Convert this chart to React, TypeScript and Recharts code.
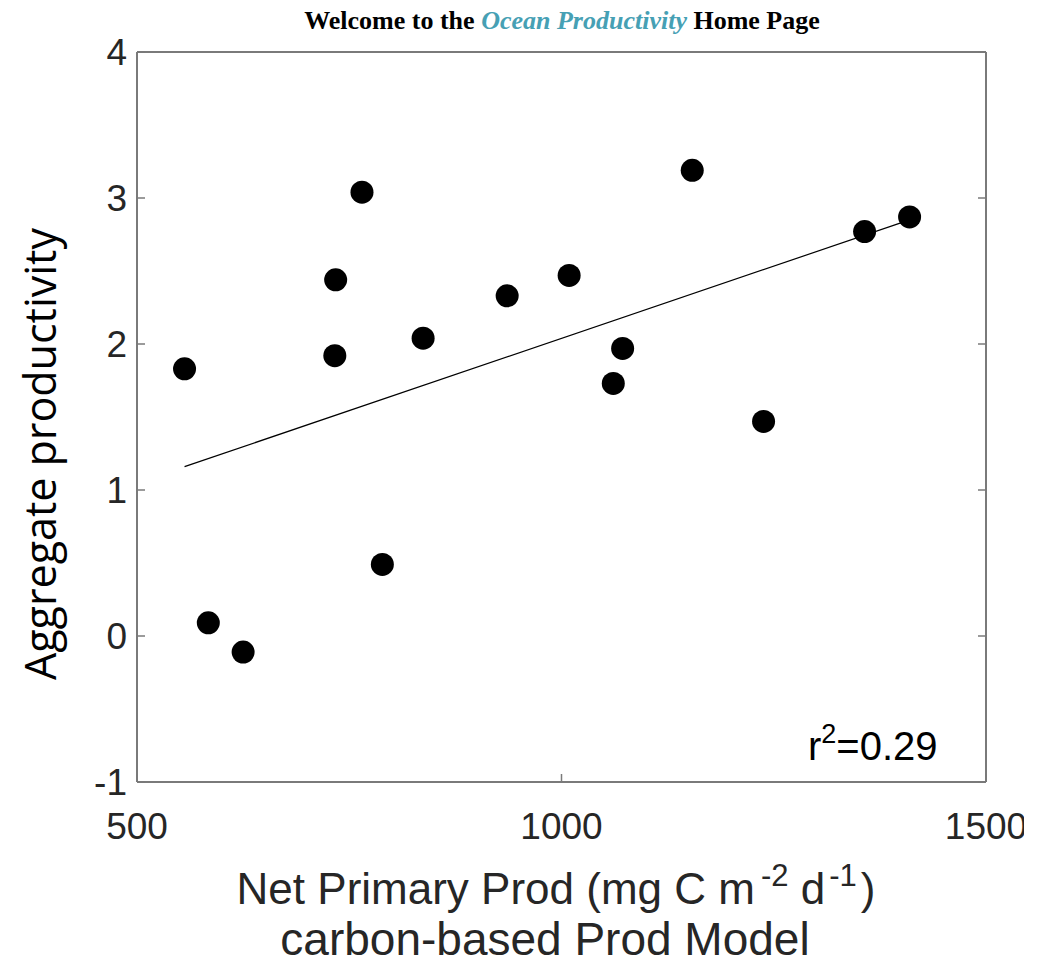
import { ScatterChart, Scatter, XAxis, YAxis, ReferenceLine } from 'recharts';

// values
const nppValues = [556, 584, 625, 734, 733, 765, 789, 837, 936, 1009, 1061, 1072, 1154, 1238, 1357, 1410];
const aggValues = [1.83, 0.09, -0.11, 2.44, 1.92, 3.04, 0.49, 2.04, 2.33, 2.47, 1.73, 1.97, 3.19, 1.47, 2.77, 2.87];
const xTicks = [500, 1000, 1500];
const yTicks = [-1, 0, 1, 2, 3, 4];
const fitX = [556, 1410];
const fitY = [1.16, 2.85];
const rSquared = '0.29';

const points = nppValues.map((x, i) => ({ x, y: aggValues[i] }));

const W = 1045;
const H = 962;
// plot box: x 137..986, y 52..782 (each axis takes 1px)
const M = { top: 51, left: 136, right: 58, bottom: 179 };
const AXIS = '#7a7a7a';
const TXT = '#262626';
const TICK = 8;
const labelFont = '"Liberation Sans", Arial, sans-serif';

const Dot = (props: any) => <circle cx={props.cx} cy={props.cy} r={11.5} fill="#000" />;

export default function App() {
  return (
    <div style={{ position: 'absolute', left: 0, top: 0, width: W, height: H, background: '#fff' }}>
      <div style={{ position: 'absolute', left: 0, top: 0, width: 1024, height: H, overflow: 'hidden' }}>
        <ScatterChart width={W} height={H} margin={M}>
          <XAxis
            type="number"
            dataKey="x"
            domain={[500, 1500]}
            ticks={xTicks}
            allowDataOverflow
            height={1}
            tickSize={0}
            tickMargin={0}
            axisLine={{ stroke: AXIS, strokeWidth: 2 }}
            tick={(p: any) => (
              <g>
                <line x1={p.x} x2={p.x} y1={p.y} y2={p.y - TICK} stroke={AXIS} strokeWidth={1.5} />
                <text x={p.x} y={p.y + 57} textAnchor="middle" fontSize={37} fill={TXT} fontFamily={labelFont}>
                  {p.payload.value}
                </text>
              </g>
            )}
          />
          <XAxis
            xAxisId="top"
            orientation="top"
            type="number"
            domain={[500, 1500]}
            ticks={xTicks}
            allowDataOverflow
            height={1}
            tickSize={0}
            tickMargin={0}
            axisLine={{ stroke: AXIS, strokeWidth: 2 }}
            tick={(p: any) => (
              <line x1={p.x} x2={p.x} y1={p.y} y2={p.y + TICK} stroke={AXIS} strokeWidth={1.5} />
            )}
          />
          <YAxis
            type="number"
            dataKey="y"
            domain={[-1, 4]}
            ticks={yTicks}
            allowDataOverflow
            width={1}
            tickSize={0}
            tickMargin={0}
            axisLine={{ stroke: AXIS, strokeWidth: 2 }}
            tick={(p: any) => (
              <g>
                <line x1={p.x} x2={p.x + TICK} y1={p.y} y2={p.y} stroke={AXIS} strokeWidth={1.5} />
                <text x={p.x - 10} y={p.y + 13} textAnchor="end" fontSize={37} fill={TXT} fontFamily={labelFont}>
                  {p.payload.value}
                </text>
              </g>
            )}
          />
          <YAxis
            yAxisId="right"
            orientation="right"
            type="number"
            domain={[-1, 4]}
            ticks={yTicks}
            allowDataOverflow
            width={1}
            tickSize={0}
            tickMargin={0}
            axisLine={{ stroke: AXIS, strokeWidth: 2 }}
            tick={(p: any) => (
              <line x1={p.x} x2={p.x - TICK} y1={p.y} y2={p.y} stroke={AXIS} strokeWidth={1.5} />
            )}
          />
          <ReferenceLine
            segment={[{ x: fitX[0], y: fitY[0] }, { x: fitX[1], y: fitY[1] }]}
            stroke="#000"
            strokeWidth={1.2}
            ifOverflow="visible"
          />
          <Scatter data={points} shape={Dot} isAnimationActive={false} />
        </ScatterChart>
      </div>
      <svg width={W} height={H} style={{ position: 'absolute', left: 0, top: 0, pointerEvents: 'none' }}>
        <text x={562} y={29} textAnchor="middle" fontSize={26} fontWeight="bold" fontFamily='"Liberation Serif", "Times New Roman", serif' fill="#000">
          Welcome to the{' '}
          <tspan fill="#46a0b4" fontStyle="italic">Ocean Productivity</tspan> Home Page
        </text>
        <text
          transform="translate(56, 454) rotate(-90)"
          textAnchor="middle"
          fontSize={43}
          fontFamily='"Open Sans", "Noto Sans", sans-serif'
          fill="#000"
        >
          Aggregate productivity
        </text>
        <text x={556} y={904} textAnchor="middle" fontSize={44} fontFamily={labelFont} fill={TXT}>
          Net Primary Prod (mg C m
          <tspan fontSize={31} dx={6} dy={-18}>-2</tspan>
          <tspan dy={18}> d</tspan>
          <tspan fontSize={31} dx={4} dy={-18}>-1</tspan>
          <tspan dx={4} dy={18}>)</tspan>
        </text>
        <text x={545} y={955} textAnchor="middle" fontSize={46} fontFamily={labelFont} fill={TXT}>
          carbon-based Prod Model
        </text>
        <text x={808} y={760} fontSize={40} fontFamily={labelFont} fill="#000">
          r<tspan fontSize={27} dy={-17}>2</tspan>
          <tspan dy={17}>={rSquared}</tspan>
        </text>
      </svg>
    </div>
  );
}
